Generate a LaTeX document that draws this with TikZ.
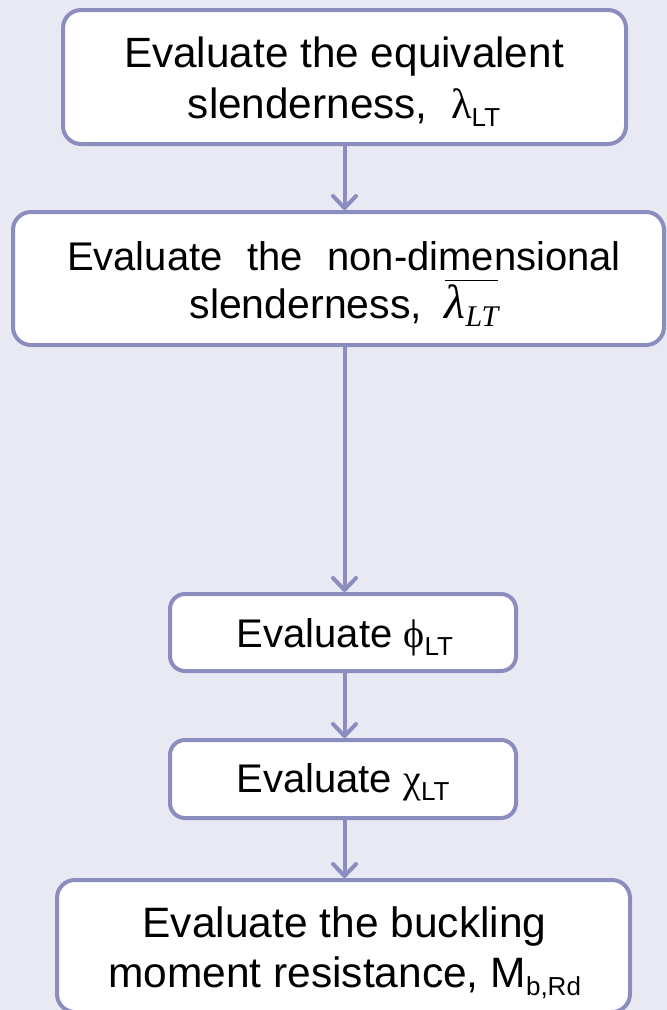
\documentclass[tikz,border=0pt]{standalone}
\usepackage{fontspec}
\setmainfont{Liberation Sans}
\newfontfamily\gk{Liberation Serif}
\usetikzlibrary{arrows.meta}
\definecolor{bgc}{HTML}{E9E9F4}
\definecolor{edge}{HTML}{8B8DBF}
\newcommand\sbs[1]{\raisebox{-8pt}{\fontsize{26}{26}\selectfont #1}}
\newcommand\ovl[1]{\vbox{\hrule height 1.6pt\kern 3pt\hbox{#1}}}
\tikzset{
  box/.style={draw=edge, line width=4pt, fill=white, rounded corners=18pt, inner sep=0pt},
  txt/.style={anchor=base, inner sep=0pt, font=\fontsize{42.3}{50}\selectfont},
  conn/.style={draw=edge, line width=4pt,
    -{Straight Barb[length=12pt,width=23pt,line cap=round,line join=round]}}
}
\begin{document}
\begin{tikzpicture}[x=1pt,y=-1pt]
\useasboundingbox (0,0) rectangle (667,1010);
\fill[bgc] (0,0) rectangle (667,1010);
% boxes
\node[box, minimum width=563pt, minimum height=134pt] (b1) at (344.5,77) {};
\node[box, minimum width=651pt, minimum height=133pt] (b2) at (338.5,278.5) {};
\node[box, rounded corners=15pt, minimum width=346pt, minimum height=77pt] (b3) at (343,632.5) {};
\node[box, rounded corners=15pt, minimum width=346pt, minimum height=78pt] (b4) at (343,779) {};
\node[box, minimum width=573pt, minimum height=132pt] (b5) at (343.5,946) {};
% texts
\node[txt] (t1a) at (344,67) {Evaluate the equivalent};
\node[txt] (t1b) at (344,118) {slenderness,~ {\gk λ}\sbs{LT}};
\node[txt, font=\fontsize{40}{46}\selectfont] (t2a) at (344,270)
  {\hbox to 554pt{Evaluate\hfill the\hfill non-dimensional}};
\node[txt, font=\fontsize{41}{48}\selectfont] (t2b) at (344,318)
  {slenderness,~ \ovl{\fontsize{48}{48}\selectfont\gk\itshape λ\raisebox{-8pt}{\fontsize{30}{30}\selectfont\gk\itshape LT}}};
\node[txt, font=\fontsize{40}{46}\selectfont] (t3) at (345,647) {Evaluate {\gk ϕ}\sbs{LT}};
\node[txt, font=\fontsize{40}{46}\selectfont] (t4) at (343,792) {Evaluate {\gk χ}\sbs{LT}};
\node[txt, font=\fontsize{42.5}{50}\selectfont] (t5a) at (344.5,937) {Evaluate the buckling};
\node[txt, font=\fontsize{42.5}{50}\selectfont] (t5b) at (344.5,987) {moment resistance, M\sbs{b,Rd}};
% connectors
\draw[conn] (b1.south) -- (b1.south |- b2.north);
\draw[conn] (b1.south |- b2.south) -- (b1.south |- b3.north);
\draw[conn] (b1.south |- b3.south) -- (b1.south |- b4.north);
\draw[conn] (b1.south |- b4.south) -- (b1.south |- b5.north);
\end{tikzpicture}
\end{document}
